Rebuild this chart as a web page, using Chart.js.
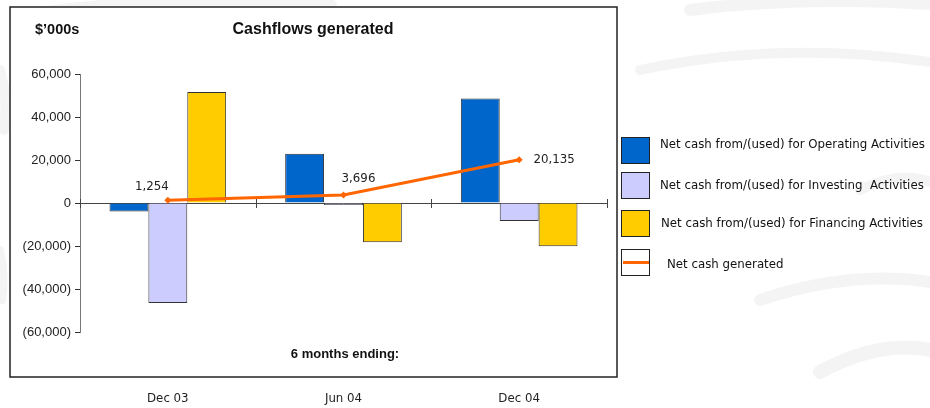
<!DOCTYPE html>
<html>
<head>
<meta charset="utf-8">
<title>Cashflows generated</title>
<script src="https://cdn.jsdelivr.net/npm/chart.js@4/dist/chart.umd.min.js"></script>
<style>
  html, body { margin: 0; padding: 0; background: #fff; }
  #wrap { position: relative; width: 930px; height: 408px; }
</style>
</head>
<body>
<div id="wrap"><canvas id="cashChart" width="930" height="408"></canvas></div>
<script>
// six-month periods and cash flows ($'000s)
var categories = ['Dec 03', 'Jun 04', 'Dec 04'];
var operating = [-3900, 22900, 48600];
var investing = [-46500, -900, -8400];
var financing = [51654, -18304, -20065];
var netCash = [1254, 3696, 20135];

var seriesNames = [
  'Net cash from/(used) for Operating Activities',
  'Net cash from/(used) for Investing  Activities',
  'Net cash from/(used) for Financing Activities',
  'Net cash generated'
];

var labelFont = '11.8px "DejaVu Sans", Verdana, sans-serif';

function fmtNum(v) {
  var s = Math.abs(v).toLocaleString('en-US');
  return v < 0 ? '(' + s + ')' : s;
}

// faint background swooshes, white plot box and its frame
var backdrop = {
  id: 'backdrop',
  beforeDraw: function(chart) {
    var ctx = chart.ctx;
    ctx.save();
    ctx.fillStyle = '#fff';
    ctx.fillRect(0, 0, chart.width, chart.height);
    ctx.strokeStyle = 'rgba(0,0,0,0.045)';
    ctx.lineCap = 'round';
    var swooshes = [
      [40, 14, 180, -6, 330, 6, 14],
      [690, 10, 800, -4, 930, 4, 12],
      [0, 70, 8, 95, 4, 130, 10],
      [640, 70, 780, 40, 930, 62, 10],
      [860, 190, 900, 170, 930, 182, 10],
      [760, 300, 850, 270, 930, 282, 12],
      [820, 372, 880, 340, 930, 350, 14],
      [0, 250, 6, 275, 2, 300, 8]
    ];
    swooshes.forEach(function(s) {
      ctx.lineWidth = s[6];
      ctx.beginPath();
      ctx.moveTo(s[0], s[1]);
      ctx.quadraticCurveTo(s[2], s[3], s[4], s[5]);
      ctx.stroke();
    });
    ctx.fillStyle = '#fff';
    ctx.fillRect(10, 7, 607, 370);
    ctx.lineWidth = 1.5;
    ctx.strokeStyle = '#222';
    ctx.strokeRect(10, 7, 607, 370);
    ctx.restore();
  },
  // horizontal axis runs along the zero line
  beforeDatasetsDraw: function(chart) {
    var ctx = chart.ctx, area = chart.chartArea;
    var y0 = chart.scales.y.getPixelForValue(0);
    var n = categories.length;
    ctx.save();
    ctx.strokeStyle = '#444';
    ctx.lineWidth = 1;
    ctx.beginPath();
    ctx.moveTo(area.left, y0 + 0.5);
    ctx.lineTo(area.right, y0 + 0.5);
    for (var i = 0; i <= n; i++) {
      var x = Math.round(area.left + i * (area.right - area.left) / n) + 0.5;
      ctx.moveTo(x, y0 - 4);
      ctx.lineTo(x, y0 + 5);
    }
    ctx.stroke();
    ctx.restore();
  }
};

// titles, value labels on the net cash line, and the legend
var annotations = {
  id: 'annotations',
  afterDraw: function(chart) {
    var ctx = chart.ctx;
    ctx.save();
    ctx.fillStyle = '#111';
    ctx.textBaseline = 'middle';
    ctx.font = 'bold 14.5px "Liberation Sans", Arial, sans-serif';
    ctx.textAlign = 'left';
    ctx.fillText('$\u2019000s', 35, 30);
    ctx.font = 'bold 16px "Liberation Sans", Arial, sans-serif';
    ctx.textAlign = 'center';
    ctx.fillText('Cashflows generated', 313, 30);
    ctx.font = 'bold 13px "Liberation Sans", Arial, sans-serif';
    ctx.fillText('6 months ending:', 345, 354);

    // value labels next to each line point
    var meta = chart.getDatasetMeta(3);
    var offsets = [[-16, -13], [15, -16], [35, 0]];
    ctx.font = labelFont;
    ctx.fillStyle = '#222';
    meta.data.forEach(function(pt, i) {
      ctx.fillText(fmtNum(netCash[i]), pt.x + offsets[i][0], pt.y + offsets[i][1]);
    });

    // legend
    var rows = [
      { box: 137, ty: 145, tx: 660 },
      { box: 172, ty: 186, tx: 660 },
      { box: 210, ty: 224, tx: 661 },
      { box: 249, ty: 265, tx: 667 }
    ];
    ctx.textAlign = 'left';
    chart.data.datasets.forEach(function(ds, i) {
      var r = rows[i];
      if (ds.type === 'line') {
        ctx.fillStyle = '#fff';
        ctx.fillRect(621, r.box, 28, 26);
        ctx.strokeStyle = '#222';
        ctx.lineWidth = 1;
        ctx.strokeRect(621.5, r.box + 0.5, 28, 26);
        ctx.strokeStyle = ds.borderColor;
        ctx.lineWidth = 3;
        ctx.beginPath();
        ctx.moveTo(623, r.box + 13.5);
        ctx.lineTo(649, r.box + 13.5);
        ctx.stroke();
      } else {
        ctx.fillStyle = ds.backgroundColor;
        ctx.fillRect(621, r.box, 28, 26);
        ctx.strokeStyle = '#222';
        ctx.lineWidth = 1;
        ctx.strokeRect(621.5, r.box + 0.5, 28, 26);
      }
      ctx.fillStyle = '#111';
      ctx.fillText(ds.label, r.tx, r.ty);
    });
    ctx.restore();
  }
};

var barStyle = { borderWidth: 1, borderColor: '#333', categoryPercentage: 0.664, barPercentage: 1, order: 1 };

new Chart(document.getElementById('cashChart'), {
  type: 'bar',
  data: {
    labels: categories,
    datasets: [
      Object.assign({ label: seriesNames[0], data: operating, backgroundColor: '#0066CC' }, barStyle),
      Object.assign({ label: seriesNames[1], data: investing, backgroundColor: '#CCCCFF' }, barStyle),
      Object.assign({ label: seriesNames[2], data: financing, backgroundColor: '#FFCC00' }, barStyle),
      {
        type: 'line',
        label: seriesNames[3],
        data: netCash,
        borderColor: '#FF6600',
        backgroundColor: '#FF6600',
        borderWidth: 3,
        pointStyle: 'rectRot',
        pointRadius: 3.5,
        pointBorderWidth: 0,
        tension: 0,
        order: 0
      }
    ]
  },
  options: {
    responsive: false,
    animation: false,
    layout: { padding: { left: 0, top: 74, right: 323, bottom: 0 } },
    plugins: {
      legend: { display: false },
      title: { display: false },
      tooltip: { enabled: false }
    },
    scales: {
      x: {
        grid: { display: false, drawTicks: false },
        border: { display: false },
        ticks: { color: '#222', font: { family: '"DejaVu Sans", Verdana, sans-serif', size: 11.8 }, padding: 60 },
        afterFit: function(s) { s.height = 76; }
      },
      y: {
        min: -60000,
        max: 60000,
        ticks: {
          stepSize: 20000,
          color: '#222',
          padding: 4,
          font: { family: '"Liberation Sans", Arial, sans-serif', size: 13 },
          callback: function(v) { return fmtNum(v); }
        },
        grid: { display: true, drawOnChartArea: false, drawTicks: true, tickLength: 5, color: '#333' },
        border: { display: true, color: '#777' },
        afterFit: function(s) { s.width = 80; }
      }
    }
  },
  plugins: [backdrop, annotations]
});
</script>
</body>
</html>
